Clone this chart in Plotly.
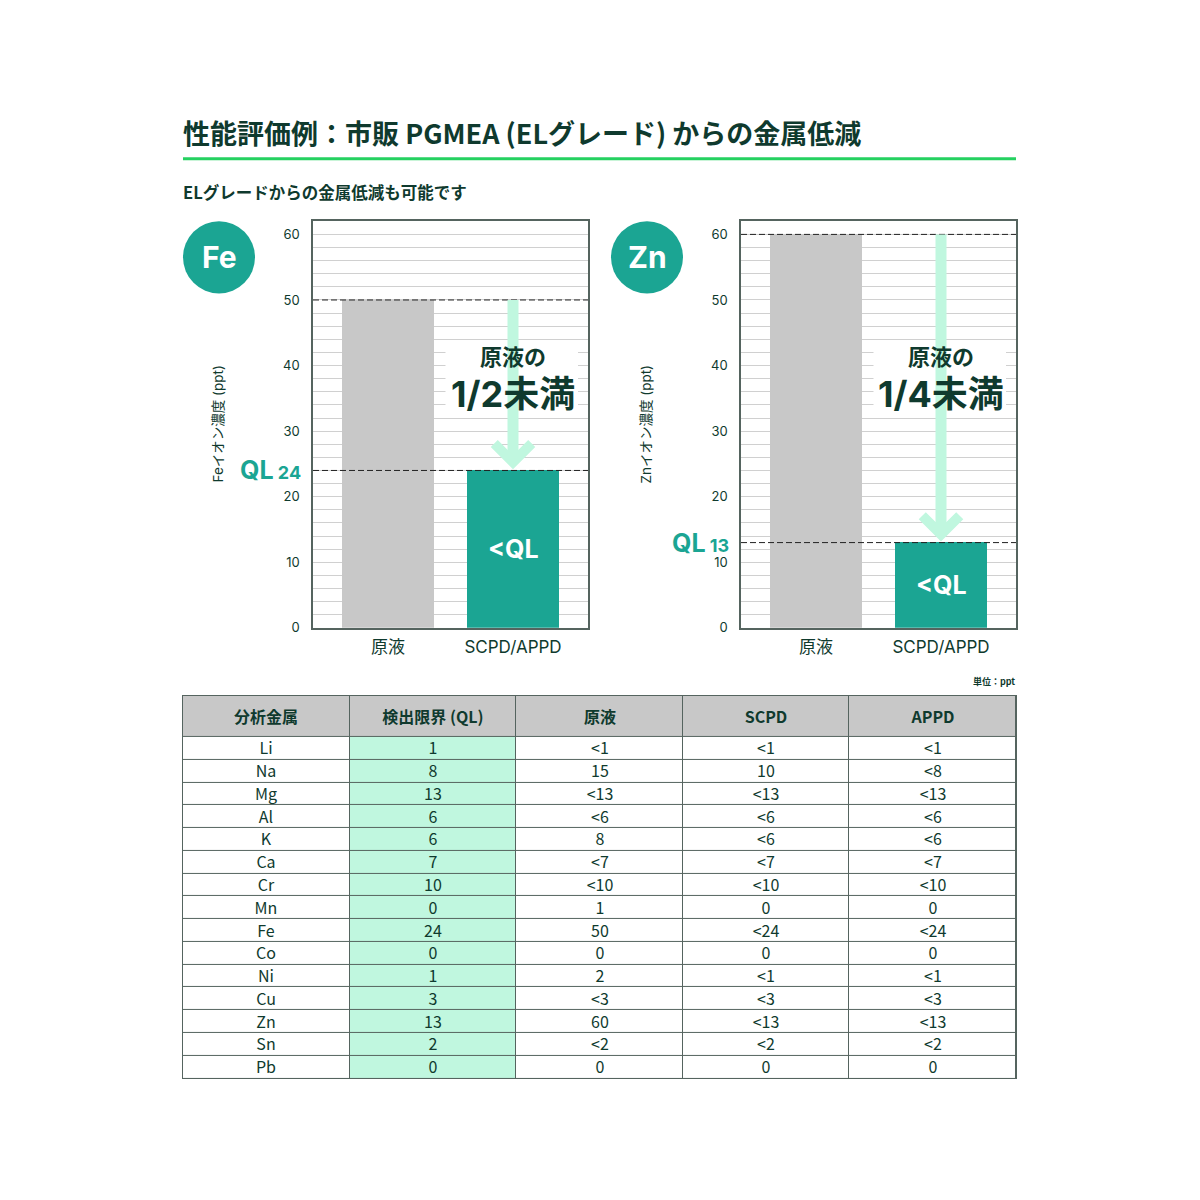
import plotly.graph_objects as go

# ---------------- data ----------------
categories = ["原液", "SCPD/APPD"]
fe_values = [50, 24]
zn_values = [60, 13]
fe_ql = 24
zn_ql = 13
y_tick_values = [0, 10, 20, 30, 40, 50, 60]

table_headers = ["分析金属", "検出限界 (QL)", "原液", "SCPD", "APPD"]
metals = ["Li", "Na", "Mg", "Al", "K", "Ca", "Cr", "Mn", "Fe", "Co", "Ni", "Cu", "Zn", "Sn", "Pb"]
ql_values = ["1", "8", "13", "6", "6", "7", "10", "0", "24", "0", "1", "3", "13", "2", "0"]
raw_values = ["<1", "15", "<13", "<6", "8", "<7", "<10", "1", "50", "0", "2", "<3", "60", "<2", "0"]
scpd_values = ["<1", "10", "<13", "<6", "<6", "<7", "<10", "0", "<24", "0", "<1", "<3", "<13", "<2", "0"]
appd_values = ["<1", "<8", "<13", "<6", "<6", "<7", "<10", "0", "<24", "0", "<1", "<3", "<13", "<2", "0"]

# ---------------- style ----------------
W = H = 1200
OFF_X = 8      # page body margin
OFF_Y = 9
SCALE_Y = 0.992
DARK = "#0f3a2e"
TEAL = "#1ba593"
GRAY = "#c8c8c8"
MINT = "#c0f7df"
GREEN = "#25d160"
FRAME = "#55645f"
GRID = "#d0d0d0"
CJK = "Noto Sans CJK JP"
LAT = "Inter, Noto Sans CJK JP"


def px(x):
    return (x - OFF_X) / W


def py(y):
    return 1 - ((y - OFF_Y) / SCALE_Y) / H


fig = go.Figure()
annotations = []
shapes = []

panels = [
    dict(sym="Fe", values=fe_values, ql=fe_ql, ax="", x0=313, x1=588, cx=219, ratio="1/2未満"),
    dict(sym="Zn", values=zn_values, ql=zn_ql, ax="2", x0=741, x1=1016, cx=647, ratio="1/4未満"),
]

xpos = list(range(len(categories)))

for p in panels:
    ax = p["ax"]
    xr, yr = "x" + ax, "y" + ax
    fig.add_trace(go.Bar(
        x=xpos, y=p["values"], width=0.74,
        marker=dict(color=[GRAY, TEAL], line=dict(width=0)),
        xaxis=xr, yaxis=yr, showlegend=False, hoverinfo="skip",
    ))
    fig.update_layout(**{
        "xaxis" + ax: dict(
            domain=[px(p["x0"]), px(p["x1"])], range=[-0.6, 1.6],
            tickvals=xpos, ticktext=categories, showgrid=False, zeroline=False,
            showline=True, linecolor=FRAME, linewidth=1.5, mirror=True,
            ticks="", ticklabelstandoff=3,
            tickfont=dict(family=LAT, size=17, color=DARK), anchor=yr,
        ),
        "yaxis" + ax: dict(
            domain=[py(628), py(222)], range=[0, 62],
            tickvals=y_tick_values, showgrid=True, gridcolor=GRID, gridwidth=1,
            minor=dict(dtick=2, showgrid=True, gridcolor=GRID, gridwidth=1),
            zeroline=False, showline=True, linecolor=FRAME, linewidth=1.5, mirror=True,
            ticks="", ticklabelstandoff=9,
            tickfont=dict(family=LAT, size=13, color=DARK), anchor=xr,
        ),
    })

    raw, red = p["values"]
    ql = p["ql"]
    for v in (raw, ql):
        shapes.append(dict(type="line", xref=xr + " domain", yref=yr, x0=0, x1=1, y0=v, y1=v,
                           line=dict(color="#222222", width=1, dash="6px,3px")))
    # white blank behind the ratio text (covers gridlines only)
    shapes.append(dict(type="rect", xref=xr, yref=yr, x0=0.46, x1=1.52, y0=34.0, y1=43.4,
                       fillcolor="white", line=dict(width=0), layer="between"))
    # arrow shaft and chevron
    shapes.append(dict(type="line", xref=xr, yref=yr, x0=1, x1=1, y0=raw, y1=ql + 1.6,
                       line=dict(color=MINT, width=11)))
    shapes.append(dict(type="path", xref=xr, yref=yr,
                       path=f"M {1-0.15},{ql+4.1} L 1,{ql+1.25} L {1+0.15},{ql+4.1}",
                       line=dict(color=MINT, width=10)))
    annotations.append(dict(xref=xr, yref=yr, x=1, y=41.6, text="原液の", showarrow=False,
                            xanchor="center", yanchor="middle",
                            font=dict(family=CJK, size=22, color=DARK, weight=700)))
    annotations.append(dict(xref=xr, yref=yr, x=1, y=35.7, text=p["ratio"], showarrow=False,
                            xanchor="center", yanchor="middle",
                            font=dict(family=LAT, size=36, color=DARK, weight=700)))
    annotations.append(dict(xref=xr, yref=yr, x=1, y=ql / 2, text="<QL", showarrow=False,
                            xanchor="center", yanchor="middle",
                            font=dict(family=LAT, size=25, color="white", weight=700)))
    annotations.append(dict(xref="paper", yref=yr, x=px(p["x0"] - 10), y=ql, xanchor="right",
                            yanchor="middle",
                            text=f"QL<span style='font-size:18px'> {ql}</span>", showarrow=False,
                            font=dict(family=LAT, size=25, color=TEAL, weight=700)))
    annotations.append(dict(xref="paper", yref="paper", x=px(p["cx"] - 1), y=py(425),
                            xanchor="center", yanchor="middle",
                            text=f"{p['sym']}イオン濃度 (ppt)", textangle=-90, showarrow=False,
                            font=dict(family=LAT, size=13.5, color=DARK)))
    shapes.append(dict(type="circle", xref="paper", yref="paper",
                       x0=px(p["cx"] - 36), x1=px(p["cx"] + 36), y0=py(294), y1=py(222),
                       fillcolor=TEAL, line=dict(width=0)))
    annotations.append(dict(xref="paper", yref="paper", x=px(p["cx"]), y=py(258),
                            xanchor="center", yanchor="middle",
                            text=p["sym"], showarrow=False,
                            font=dict(family=LAT, size=30, color="white", weight=700)))

# title, rule, subtitle, unit
annotations.append(dict(xref="paper", yref="paper", x=px(181), y=py(133), xanchor="left",
                        yanchor="middle", text="性能評価例：市販 PGMEA (ELグレード) からの金属低減",
                        showarrow=False, font=dict(family=CJK, size=27, color=DARK, weight=700)))
shapes.append(dict(type="line", xref="paper", yref="paper", x0=px(183), x1=px(1016),
                   y0=py(159.5), y1=py(159.5), line=dict(color=GREEN, width=3)))
annotations.append(dict(xref="paper", yref="paper", x=px(181), y=py(193), xanchor="left",
                        yanchor="middle", text="ELグレードからの金属低減も可能です",
                        showarrow=False, font=dict(family=CJK, size=16.5, color=DARK, weight=700)))
annotations.append(dict(xref="paper", yref="paper", x=px(1017), y=py(682), xanchor="right",
                        yanchor="middle", text="単位：ppt",
                        showarrow=False, font=dict(family=CJK, size=9, color=DARK, weight=700)))

# ---------------- table as a heatmap grid ----------------
columns = [metals, ql_values, raw_values, scpd_values, appd_values]
n = len(metals)
header_h = 41
row_h = (1078 - 696 - header_h) / n
y_edges = [0, header_h] + [header_h + row_h * (i + 1) for i in range(n)]
text = [[f"<b><span style='font-size:16px'>{h}</span></b>" for h in table_headers]]
z = [[2] * len(table_headers)]
for r in range(n):
    text.append([col[r] for col in columns])
    z.append([1 if c == 1 else 0 for c in range(len(columns))])

fig.add_trace(go.Heatmap(
    z=z, x=list(range(len(columns))), y=y_edges, text=text, texttemplate="%{text}",
    textfont=dict(family="Liberation Sans Narrow, " + CJK, size=16, color=DARK),
    colorscale=[[0, "white"], [0.5, MINT], [1, GRAY]], zmin=0, zmax=2, showscale=False,
    xgap=1, ygap=1, xaxis="x3", yaxis="y3", hoverinfo="skip",
))
fig.update_layout(
    xaxis3=dict(domain=[px(183), px(1016)], range=[-0.5, len(columns) - 0.5], anchor="y3",
                showgrid=False, zeroline=False, showticklabels=False, ticks="",
                showline=True, linecolor=FRAME, linewidth=1, mirror=True),
    yaxis3=dict(domain=[py(1078), py(696)], range=[y_edges[-1], 0], anchor="x3",
                showgrid=False, zeroline=False, showticklabels=False, ticks="",
                showline=True, linecolor=FRAME, linewidth=1, mirror=True),
)
shapes.append(dict(type="rect", xref="x3", yref="y3", x0=-0.5, x1=len(columns) - 0.5,
                   y0=0, y1=y_edges[-1], fillcolor=FRAME, line=dict(width=0), layer="below"))

fig.update_layout(
    width=W, height=H, margin=dict(l=0, r=0, t=0, b=0),
    paper_bgcolor="white", plot_bgcolor="white",
    showlegend=False, bargap=0,
    annotations=annotations, shapes=shapes,
)

fig.write_html("out.html")
